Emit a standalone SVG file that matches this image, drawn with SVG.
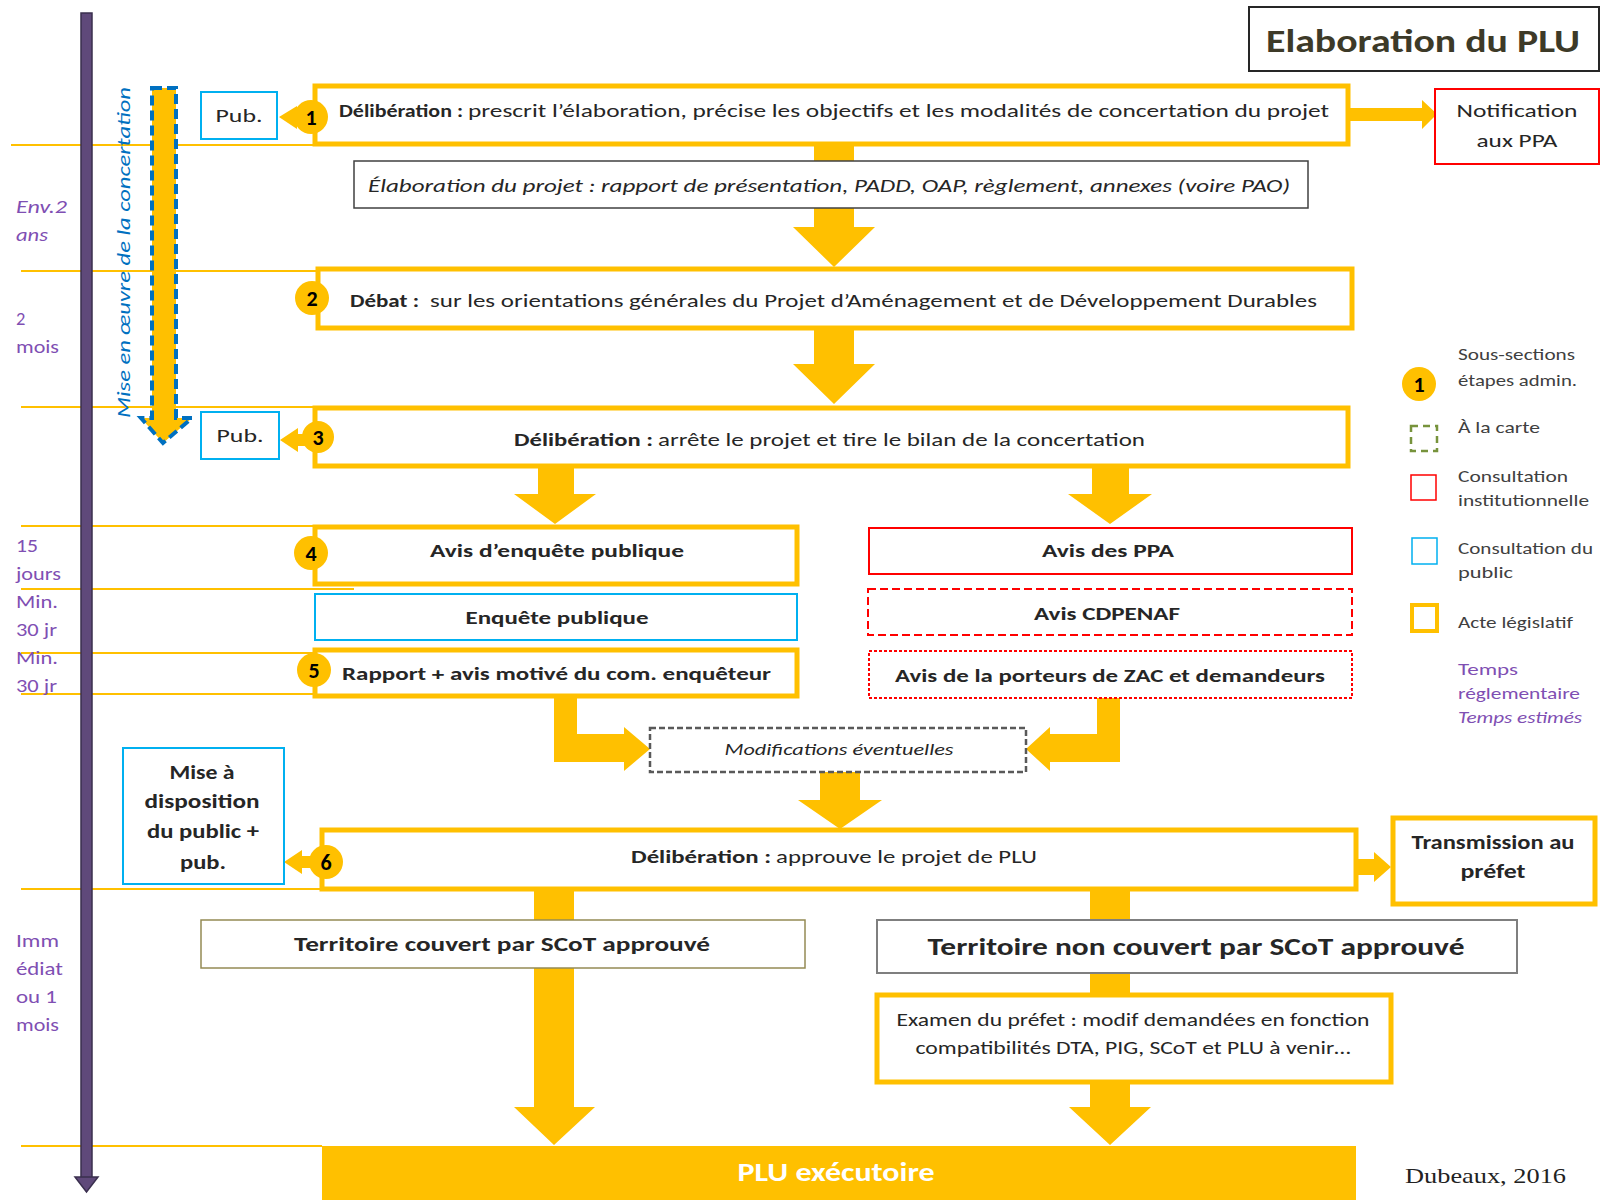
<svg xmlns="http://www.w3.org/2000/svg" width="1601" height="1200" viewBox="0 0 1601 1200">
<style>
text{font-family:Carlito,"Liberation Sans",Arial,sans-serif;fill:#262626}
.b{font-weight:bold}
.i{font-style:italic}
.t{font-size:19px}
.c{text-anchor:middle}
.y{fill:#fff;stroke:#ffc000;stroke-width:5}
.bl{fill:#fff;stroke:#00b0f0;stroke-width:2}
.rd{fill:#fff;stroke:#ff0000;stroke-width:2}
.arr{fill:#ffc000}
.gl{stroke:#ffc000;stroke-width:2;fill:none}
.tl{fill:#7f4fb3;font-size:18.5px}
.lg{font-size:16px;fill:#404040}
.num{font-size:22px;font-weight:bold;fill:#000;text-anchor:middle}
.circ{fill:#ffc000}
</style>
<rect width="1601" height="1200" fill="#fff"/>

<g id="timeline">
  <path class="gl" d="M11 145H315M21 271H318M21 407H315M21 526H315M21 589H354M21 653H315M21 694H315M21 889H322M21 1146H322"/>
  <rect x="81" y="13" width="11" height="1165" fill="#5f497a" stroke="#3a2f4e" stroke-width="1.5"/>
  <polygon points="75,1177 98,1177 86.5,1192" fill="#5f497a" stroke="#3a2f4e" stroke-width="1.5"/>
  <text class="tl i" x="16" y="213" textLength="51" lengthAdjust="spacingAndGlyphs">Env.2</text>
  <text class="tl i" x="16" y="241" textLength="32" lengthAdjust="spacingAndGlyphs">ans</text>
  <text class="tl" x="16" y="325">2</text>
  <text class="tl" x="16" y="353" textLength="43" lengthAdjust="spacingAndGlyphs">mois</text>
  <text class="tl" x="16" y="552" textLength="22" lengthAdjust="spacingAndGlyphs">15</text>
  <text class="tl" x="16" y="580" textLength="45" lengthAdjust="spacingAndGlyphs">jours</text>
  <text class="tl" x="16" y="608" textLength="42" lengthAdjust="spacingAndGlyphs">Min.</text>
  <text class="tl" x="16" y="636" textLength="41" lengthAdjust="spacingAndGlyphs">30 jr</text>
  <text class="tl" x="16" y="664" textLength="42" lengthAdjust="spacingAndGlyphs">Min.</text>
  <text class="tl" x="16" y="692" textLength="41" lengthAdjust="spacingAndGlyphs">30 jr</text>
  <text class="tl" x="16" y="947" textLength="43" lengthAdjust="spacingAndGlyphs">Imm</text>
  <text class="tl" x="16" y="975" textLength="47" lengthAdjust="spacingAndGlyphs">édiat</text>
  <text class="tl" x="16" y="1003" textLength="41" lengthAdjust="spacingAndGlyphs">ou 1</text>
  <text class="tl" x="16" y="1031" textLength="43" lengthAdjust="spacingAndGlyphs">mois</text>
</g>

<g id="concertation">
  <polygon points="152,88 176,88 176,418 192,418 163,443 141,418 152,418" fill="#ffc000" stroke="#0070c0" stroke-width="4" stroke-dasharray="10 5"/>
  <text class="i c" transform="translate(130,252.5) rotate(-90)" font-size="18.5" style="fill:#0070c0" textLength="331" lengthAdjust="spacingAndGlyphs">Mise en œuvre de la concertation</text>
</g>

<g id="connectors">
  <polygon class="arr" points="814,144 854,144 854,227 875,227 834,267 793,227 814,227"/>
  <polygon class="arr" points="814,328 854,328 854,364 875,364 834,404 793,364 814,364"/>
  <polygon class="arr" points="538,466 574,466 574,494 596,494 555,524 514,494 538,494"/>
  <polygon class="arr" points="1092,466 1129,466 1129,494 1152,494 1110,524 1068,494 1092,494"/>
  <polygon class="arr" points="554,696 577,696 577,734 624,734 624,727 650,749 624,771 624,762 554,762"/>
  <polygon class="arr" points="1120,698 1097,698 1097,734 1050,734 1050,727 1026,749 1050,771 1050,762 1120,762"/>
  <polygon class="arr" points="820,772 860,772 860,800 882,800 840,829 798,800 820,800"/>
  <polygon class="arr" points="1348,108 1422,108 1422,100 1437,114 1422,129 1422,121 1348,121"/>
  <polygon class="arr" points="1356,859 1374,859 1374,852 1391,867 1374,882 1374,875 1356,875"/>
  <polygon class="arr" points="534,889 574,889 574,1107 595,1107 554,1145 514,1107 534,1107"/>
  <polygon class="arr" points="1090,889 1130,889 1130,1107 1151,1107 1110,1145 1069,1107 1090,1107"/>
  <polygon class="arr" points="297,111 297,106 279,117 297,129 297,123 313,123 313,111"/>
  <polygon class="arr" points="298,434 298,428 280,440 298,452 298,446 318,446 318,434"/>
  <polygon class="arr" points="302,856 302,850 284,862 302,874 302,868 325,868 325,856"/>
</g>

<g id="title">
  <rect x="1249" y="7" width="350" height="64" fill="#fff" stroke="#262626" stroke-width="2"/>
  <text class="b" x="1266" y="52" font-size="33" style="fill:#3d3a28" textLength="314" lengthAdjust="spacingAndGlyphs">Elaboration du PLU</text>
</g>

<g id="n1">
  <rect class="y" x="315" y="86" width="1033" height="58"/>
  <text class="t b" x="339" y="117" textLength="124" lengthAdjust="spacingAndGlyphs">Délibération :</text>
  <text class="t" x="468" y="117" textLength="861" lengthAdjust="spacingAndGlyphs">prescrit l’élaboration, précise les objectifs et les modalités de concertation du projet</text>
  <circle class="circ" cx="311" cy="117" r="17"/>
  <text class="num" x="311" y="125">1</text>
</g>

<g id="pub1">
  <rect class="bl" x="201" y="92" width="76" height="47"/>
  <text class="c" x="239" y="122" font-size="19" textLength="47" lengthAdjust="spacingAndGlyphs">Pub.</text>
</g>

<g id="notif">
  <rect class="rd" x="1435" y="89" width="164" height="75"/>
  <text class="c" x="1517" y="117" font-size="19" textLength="121" lengthAdjust="spacingAndGlyphs">Notification</text>
  <text class="c" x="1517" y="147" font-size="19" textLength="81" lengthAdjust="spacingAndGlyphs">aux PPA</text>
</g>

<g id="elab">
  <rect x="354" y="161" width="954" height="47" fill="#fff" stroke="#404040" stroke-width="1.5"/>
  <text class="t i" x="368" y="192" textLength="922" lengthAdjust="spacingAndGlyphs">Élaboration du projet : rapport de présentation, PADD, OAP, règlement, annexes (voire PAO)</text>
</g>

<g id="n2">
  <rect class="y" x="318" y="269" width="1034" height="59"/>
  <text class="t b" x="350" y="307" textLength="69" lengthAdjust="spacingAndGlyphs">Débat :</text>
  <text class="t" x="430" y="307" textLength="887" lengthAdjust="spacingAndGlyphs">sur les orientations générales du Projet d’Aménagement et de Développement Durables</text>
  <circle class="circ" cx="312" cy="298" r="17"/>
  <text class="num" x="312" y="306">2</text>
</g>

<g id="n3">
  <rect class="y" x="315" y="408" width="1033" height="58"/>
  <text class="t b" x="514" y="446" textLength="139" lengthAdjust="spacingAndGlyphs">Délibération :</text>
  <text class="t" x="658" y="446" textLength="487" lengthAdjust="spacingAndGlyphs">arrête le projet et tire le bilan de la concertation</text>
  <circle class="circ" cx="318" cy="437" r="16"/>
  <text class="num" x="318" y="445">3</text>
</g>

<g id="pub2">
  <rect class="bl" x="201" y="412" width="78" height="47"/>
  <text class="c" x="240" y="442" font-size="19" textLength="47" lengthAdjust="spacingAndGlyphs">Pub.</text>
</g>

<g id="n4">
  <rect class="y" x="315" y="527" width="482" height="57"/>
  <text class="t b c" x="557" y="557" textLength="254" lengthAdjust="spacingAndGlyphs">Avis d’enquête publique</text>
  <circle class="circ" cx="311" cy="553" r="17"/>
  <text class="num" x="311" y="561">4</text>
</g>

<g id="enquete">
  <rect class="bl" x="315" y="594" width="482" height="46"/>
  <text class="t b c" x="557" y="624" textLength="183" lengthAdjust="spacingAndGlyphs">Enquête publique</text>
</g>

<g id="n5">
  <rect class="y" x="315" y="650" width="482" height="46"/>
  <text class="t b" x="342" y="680" textLength="429" lengthAdjust="spacingAndGlyphs">Rapport + avis motivé du com. enquêteur</text>
  <circle class="circ" cx="314" cy="670" r="17"/>
  <text class="num" x="314" y="678">5</text>
</g>

<g id="ppa">
  <rect class="rd" x="869" y="528" width="483" height="46"/>
  <text class="t b c" x="1108" y="557" textLength="132" lengthAdjust="spacingAndGlyphs">Avis des PPA</text>
</g>

<g id="cdpenaf">
  <rect class="rd" x="868" y="589" width="484" height="46" stroke-dasharray="8 4"/>
  <text class="t b c" x="1107" y="620" textLength="146" lengthAdjust="spacingAndGlyphs">Avis CDPENAF</text>
</g>

<g id="porteurs">
  <rect class="rd" x="869" y="651" width="483" height="47" stroke-width="1.5" stroke-dasharray="3 2"/>
  <text class="t b c" x="1110" y="682" textLength="430" lengthAdjust="spacingAndGlyphs">Avis de la porteurs de ZAC et demandeurs</text>
</g>

<g id="modif">
  <rect x="650" y="728" width="376" height="44" fill="#fff" stroke="#595959" stroke-width="2.5" stroke-dasharray="6 3"/>
  <text class="i c" x="839" y="755" font-size="17" textLength="229" lengthAdjust="spacingAndGlyphs">Modifications éventuelles</text>
</g>

<g id="n6">
  <rect class="y" x="322" y="830" width="1034" height="59"/>
  <text class="t b" x="631" y="863" textLength="140" lengthAdjust="spacingAndGlyphs">Délibération :</text>
  <text class="t" x="776" y="863" textLength="261" lengthAdjust="spacingAndGlyphs">approuve le projet de PLU</text>
  <circle class="circ" cx="326" cy="862" r="17"/>
  <text class="num" x="326" y="870">6</text>
</g>

<g id="mise">
  <rect class="bl" x="123" y="748" width="161" height="136"/>
  <text class="b c" x="202" y="779" font-size="20" textLength="65" lengthAdjust="spacingAndGlyphs">Mise à</text>
  <text class="b c" x="202" y="808" font-size="20" textLength="115" lengthAdjust="spacingAndGlyphs">disposition</text>
  <text class="b c" x="203" y="838" font-size="20" textLength="112" lengthAdjust="spacingAndGlyphs">du public +</text>
  <text class="b c" x="203" y="869" font-size="20" textLength="46" lengthAdjust="spacingAndGlyphs">pub.</text>
</g>

<g id="trans">
  <rect class="y" x="1393" y="818" width="202" height="86" stroke-width="4"/>
  <text class="b c" x="1493" y="849" font-size="20" textLength="163" lengthAdjust="spacingAndGlyphs">Transmission au</text>
  <text class="b c" x="1493" y="878" font-size="20" textLength="65" lengthAdjust="spacingAndGlyphs">préfet</text>
</g>

<g id="couvert">
  <rect x="201" y="920" width="604" height="48" fill="#fff" stroke="#948a54" stroke-width="1.5"/>
  <text class="b c" x="502" y="951" font-size="20" textLength="416" lengthAdjust="spacingAndGlyphs">Territoire couvert par SCoT approuvé</text>
</g>

<g id="noncouvert">
  <rect x="877" y="920" width="640" height="53" fill="#fff" stroke="#7f7f7f" stroke-width="2"/>
  <text class="b c" x="1196" y="955" font-size="25" textLength="537" lengthAdjust="spacingAndGlyphs">Territoire non couvert par SCoT approuvé</text>
</g>

<g id="examen">
  <rect class="y" x="877" y="995" width="514" height="87" stroke-width="4"/>
  <text class="c" x="1133" y="1026" font-size="18" textLength="473" lengthAdjust="spacingAndGlyphs">Examen du préfet : modif demandées en fonction</text>
  <text class="c" x="1133" y="1054" font-size="18" textLength="435" lengthAdjust="spacingAndGlyphs">compatibilités DTA, PIG, SCoT et PLU à venir…</text>
</g>

<g id="plu">
  <rect x="322" y="1146" width="1034" height="60" fill="#ffc000"/>
  <text class="b c" x="836" y="1181" font-size="26" style="fill:#fff" textLength="197" lengthAdjust="spacingAndGlyphs">PLU exécutoire</text>
</g>

<text x="1405" y="1183" font-size="22" style="font-family:'Liberation Serif','Times New Roman',serif;fill:#222" textLength="161" lengthAdjust="spacingAndGlyphs">Dubeaux, 2016</text>

<g id="legend">
  <circle class="circ" cx="1419" cy="384" r="17"/>
  <text class="num" x="1419" y="392">1</text>
  <text class="lg" x="1458" y="360" textLength="117" lengthAdjust="spacingAndGlyphs">Sous-sections</text>
  <text class="lg" x="1458" y="386" textLength="119" lengthAdjust="spacingAndGlyphs">étapes admin.</text>
  <rect x="1411" y="426" width="26" height="25" fill="none" stroke="#77933c" stroke-width="2.5" stroke-dasharray="7 5"/>
  <text class="lg" x="1458" y="433" textLength="82" lengthAdjust="spacingAndGlyphs">À la carte</text>
  <rect x="1411" y="475" width="25" height="25" fill="none" stroke="#ff0000" stroke-width="1.5"/>
  <text class="lg" x="1458" y="482" textLength="110" lengthAdjust="spacingAndGlyphs">Consultation</text>
  <text class="lg" x="1458" y="506" textLength="131" lengthAdjust="spacingAndGlyphs">institutionnelle</text>
  <rect x="1412" y="538" width="25" height="26" fill="none" stroke="#00b0f0" stroke-width="1.5"/>
  <text class="lg" x="1458" y="554" textLength="135" lengthAdjust="spacingAndGlyphs">Consultation du</text>
  <text class="lg" x="1458" y="578" textLength="55" lengthAdjust="spacingAndGlyphs">public</text>
  <rect x="1412" y="605" width="25" height="26" fill="none" stroke="#ffc000" stroke-width="4"/>
  <text class="lg" x="1458" y="628" textLength="115" lengthAdjust="spacingAndGlyphs">Acte législatif</text>
  <text class="lg" x="1458" y="675" style="fill:#7f4fb3" textLength="60" lengthAdjust="spacingAndGlyphs">Temps</text>
  <text class="lg" x="1458" y="699" style="fill:#7f4fb3" textLength="122" lengthAdjust="spacingAndGlyphs">réglementaire</text>
  <text class="lg i" x="1458" y="723" style="fill:#7f4fb3" textLength="124" lengthAdjust="spacingAndGlyphs">Temps estimés</text>
</g>
</svg>
